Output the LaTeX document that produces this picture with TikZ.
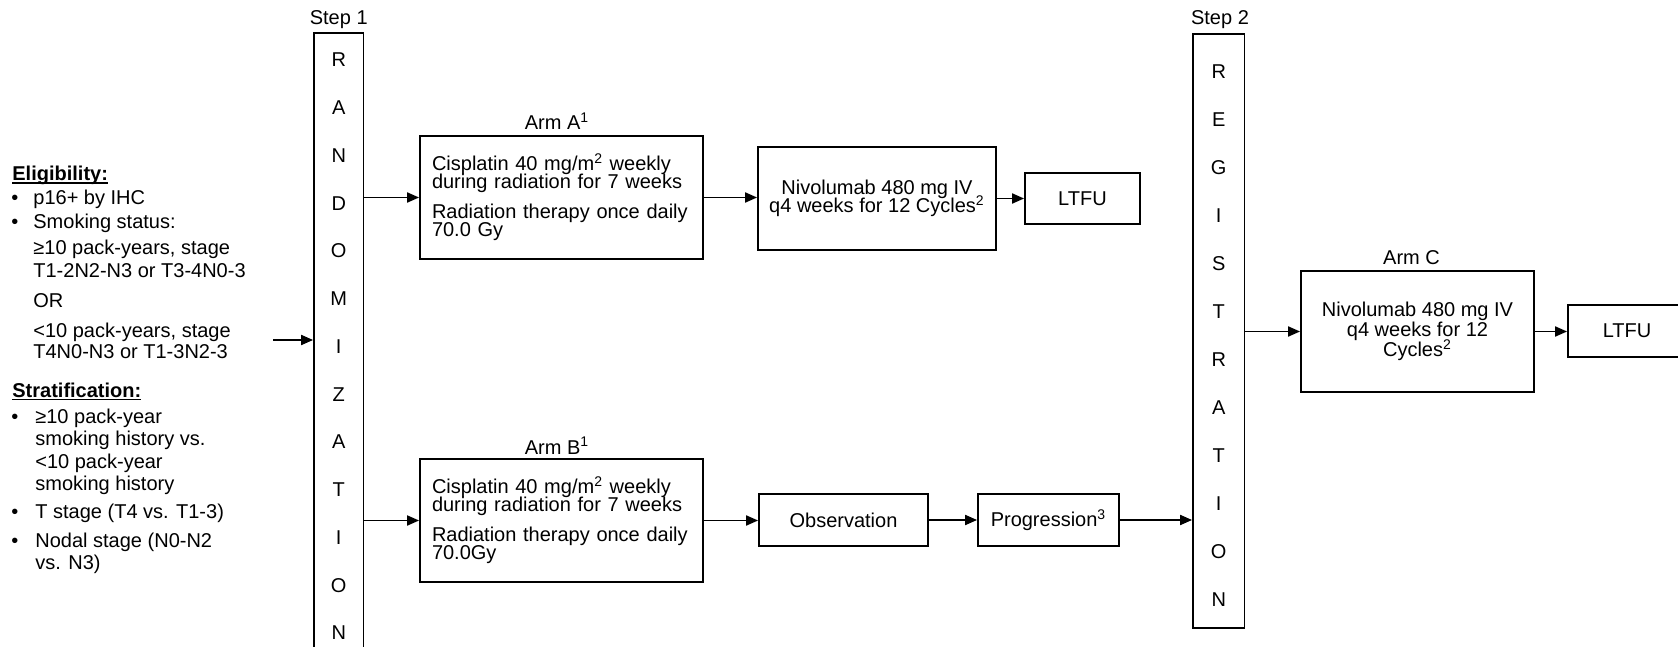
\documentclass[tikz,border=0pt]{standalone}
\usepackage{fontspec}
\setmainfont{Liberation Sans}
\usetikzlibrary{arrows.meta}
\newcommand\tightfont{\fontsize{10}{9}\selectfont\normalbaselineskip=9pt\lineskiplimit=-20pt\relax}
\newcommand\wideboxfont{\fontsize{10}{10}\selectfont\normalbaselineskip=10pt\lineskiplimit=-20pt\relax}
\newcommand\myul[1]{\setbox0\hbox{#1}\rlap{\rule[-1.3pt]{\wd0}{0.55pt}}\box0}
\begin{document}
\begin{tikzpicture}[x=0.5pt,y=-0.5pt,
  every node/.style={font=\tightfont, inner sep=0pt},
  box/.style={draw, line width=0.9pt},
  armbox/.style={box, minimum width=141.5pt, minimum height=61.5pt, text width=129.5pt, inner xsep=6pt, align=left},
  cbox/.style={box, align=center},
  arr/.style={line width=0.9pt, -{Triangle[length=6pt,width=5pt]}},
  lbl/.style={anchor=base},
  txt/.style={anchor=base west, font=\fontsize{10}{12}\selectfont}]
\useasboundingbox (0,0) rectangle (1678,647);
\clip (0,0) rectangle (1678,647);

% left text
\node[txt] (e0) at (12,181) {\myul{\textbf{Eligibility:}}};
\node[txt] (b1) at (11,205) {•};
\node[txt] (e1) at (33,205) {p16+ by IHC};
\node[txt] (b2) at (11,228) {•};
\node[txt] (e2) at (33,228) {Smoking status:};
\node[txt] (e3) at (33,255) {≥10 pack-years, stage};
\node[txt] (e4) at (33,278) {T1-2N2-N3 or T3-4N0-3};
\node[txt] (e5) at (33,307) {OR};
\node[txt] (e6) at (33,337) {<10 pack-years, stage};
\node[txt] (e7) at (33,358) {T4N0-N3 or T1-3N2-3};
\node[txt] (s0) at (12,397) {\myul{\textbf{Stratification:}}};
\node[txt] (b3) at (11,423) {•};
\node[txt] (s1) at (35,423) {≥10 pack-year};
\node[txt] (s2) at (35,445) {smoking history vs.};
\node[txt] (s3) at (35,468) {<10 pack-year};
\node[txt] (s4) at (35,490) {smoking history};
\node[txt] (b4) at (11,518) {•};
\node[txt] (s5) at (35,518) {T stage (T4 vs. T1-3)};
\node[txt] (b5) at (11,547) {•};
\node[txt] (s6) at (35,547) {Nodal stage (N0-N2};
\node[txt] (s7) at (35,569) {vs. N3)};

% Step 1 randomization
\node[lbl] (step1) at (338.75,25) {Step 1};
\node[box, minimum width=24.75pt, minimum height=333.5pt] (rand) at (338.75,366.5) {};
\foreach \l [count=\i from 0] in {R,A,N,D,O,M,I,Z,A,T,I,O,N}
  \node (ra\i) at (338.75,{60+47.75*\i}) {\l};

% Arm A
\node[lbl] (armAl) at (557,130) {Arm A\textsuperscript{1}};
\node[armbox] (armA) at (561.5,197.5) {Cisplatin 40 mg/m\textsuperscript{2} weekly\\ during radiation for 7 weeks\\[6pt] Radiation therapy once daily\\ 70.0 Gy};
\node[cbox, minimum width=119pt, minimum height=51.5pt] (nivA) at (877,198.5) {Nivolumab 480 mg IV\\ q4 weeks for 12 Cycles\textsuperscript{2}};
\node[cbox, minimum width=57.5pt, minimum height=25.5pt] (ltfuA) at (1082.5,198.5) {LTFU};

% Arm B
\node[lbl] (armBl) at (557,454) {Arm B\textsuperscript{1}};
\node[armbox] (armB) at (561.5,520.5) {Cisplatin 40 mg/m\textsuperscript{2} weekly\\ during radiation for 7 weeks\\[6pt] Radiation therapy once daily\\ 70.0Gy};
\node[cbox, minimum width=84.5pt, minimum height=26pt] (obs) at (843.5,520) {Observation};
\node[cbox, minimum width=70.5pt, minimum height=26pt] (prog) at (1048.5,520) {Progression\textsuperscript{3}};

% Step 2 registration
\node[lbl] (step2) at (1220,25) {Step 2};
\node[box, minimum width=25.75pt, minimum height=297pt] (reg) at (1218.75,331) {};
\foreach \l [count=\i from 0] in {R,E,G,I,S,T,R,A,T,I,O,N}
  \node (rg\i) at (1218.75,{72+48*\i}) {\l};

% Arm C
\node[lbl] (armCl) at (1411.5,264) {Arm C};
\node[cbox, font=\wideboxfont, minimum width=116.5pt, minimum height=60.5pt] (armC) at (1417.5,331.5) {Nivolumab 480 mg IV\\ q4 weeks for 12\\ Cycles\textsuperscript{2}};
\node[cbox, minimum width=59pt, minimum height=26pt] (ltfuC) at (1627,331) {LTFU};

% connectors
\coordinate (entry) at (273,340);
\draw[arr] (entry) -- (entry -| rand.west);
\draw[arr] (armA.west -| rand.east) -- (armA.west);
\draw[arr] (armB.west -| rand.east) -- (armB.west);
\draw[arr] (armA.east) -- (armA.east -| nivA.west);
\draw[arr] (nivA.east) -- (nivA.east -| ltfuA.west);
\draw[arr] (armB.east) -- (armB.east -| obs.west);
\draw[arr] (obs.east) -- (prog.west);
\draw[arr] (prog.east) -- (prog.east -| reg.west);
\draw[arr] (armC.west -| reg.east) -- (armC.west);
\draw[arr] (armC.east) -- (armC.east -| ltfuC.west);
\end{tikzpicture}
\end{document}
